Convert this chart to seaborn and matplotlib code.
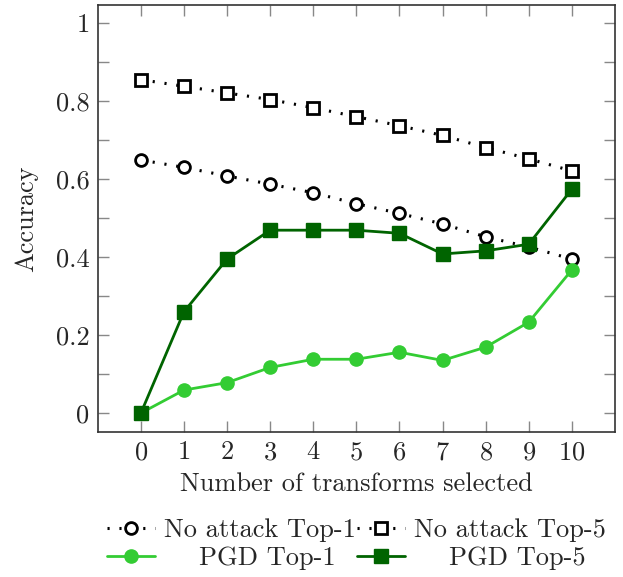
import matplotlib
matplotlib.use("Agg")
import matplotlib.pyplot as plt
from matplotlib.ticker import MultipleLocator, FuncFormatter
import pandas as pd
import seaborn as sns

# number of transforms selected
n_transforms = [0, 1, 2, 3, 4, 5, 6, 7, 8, 9, 10]

# accuracy values
clean_top1 = [0.649, 0.630, 0.608, 0.587, 0.565, 0.537, 0.512, 0.485, 0.452, 0.426, 0.395]
clean_top5 = [0.855, 0.838, 0.821, 0.804, 0.783, 0.760, 0.737, 0.712, 0.681, 0.652, 0.621]
pgd_top1 = [0.0, 0.059, 0.078, 0.117, 0.138, 0.138, 0.156, 0.135, 0.169, 0.233, 0.367]
pgd_top5 = [0.0, 0.260, 0.395, 0.469, 0.469, 0.469, 0.461, 0.408, 0.416, 0.433, 0.574]

labels = ["No attack Top-1", "No attack Top-5", "    PGD Top-1", "    PGD Top-5"]

sns.set_theme(style="ticks")
plt.rcParams["font.family"] = ["cmr10", "DejaVu Serif"]
plt.rcParams["mathtext.fontset"] = "cm"
plt.rcParams["axes.formatter.use_mathtext"] = True

fs = 19
fig = plt.figure(figsize=(6.23, 5.77), dpi=100)
ax = fig.add_axes([0.157, 0.251, 0.83, 0.74])

df = pd.DataFrame({"x": n_transforms, "c1": clean_top1, "c5": clean_top5,
                   "p1": pgd_top1, "p5": pgd_top5})

dot = (0, (0.7, 3.2))
sns.lineplot(data=df, x="x", y="c1", ax=ax, color="black", linestyle=dot, lw=2.2,
             marker="o", markersize=8.5, markerfacecolor="white",
             markeredgecolor="black", markeredgewidth=2, label=labels[0])
sns.lineplot(data=df, x="x", y="c5", ax=ax, color="black", linestyle=dot, lw=2.2,
             marker="s", markersize=8.5, markerfacecolor="white",
             markeredgecolor="black", markeredgewidth=2, label=labels[1])
sns.lineplot(data=df, x="x", y="p1", ax=ax, color="#33cc33", lw=2,
             marker="o", markersize=9.5, markerfacecolor="#33cc33",
             markeredgecolor="#33cc33", markeredgewidth=1, label=labels[2])
sns.lineplot(data=df, x="x", y="p5", ax=ax, color="#006400", lw=2,
             marker="s", markersize=9.5, markerfacecolor="#006400",
             markeredgecolor="#006400", markeredgewidth=1, label=labels[3])

ax.set_xlim(-1, 11)
ax.set_ylim(-0.049, 1.046)
ax.set_xticks(n_transforms)
ax.yaxis.set_major_locator(MultipleLocator(0.2))
ax.yaxis.set_minor_locator(MultipleLocator(0.1))
ax.yaxis.set_major_formatter(FuncFormatter(lambda v, p: "%g" % round(v, 2)))
ax.tick_params(which="both", direction="in", length=8, width=1, color="#888888",
               top=True, right=True, labelsize=fs, pad=6)
for s in ax.spines.values():
    s.set_color("#333333")
    s.set_linewidth(1.2)

ax.set_xlabel("Number of transforms selected", fontsize=fs, labelpad=6)
ax.set_ylabel("Accuracy", fontsize=fs, labelpad=13)

# row-major order: column 1 holds the Top-1 entries, column 2 the Top-5 ones
h, l = ax.get_legend_handles_labels()
order = [0, 2, 1, 3]
ax.legend([h[i] for i in order], [l[i] for i in order], loc="upper center",
          bbox_to_anchor=(0.5, -0.178), ncol=2, frameon=False,
          fontsize=fs, handlelength=1.8, handletextpad=0.35, columnspacing=0.05,
          labelspacing=0.15, borderaxespad=0)

fig.savefig("out.png", dpi=100)
